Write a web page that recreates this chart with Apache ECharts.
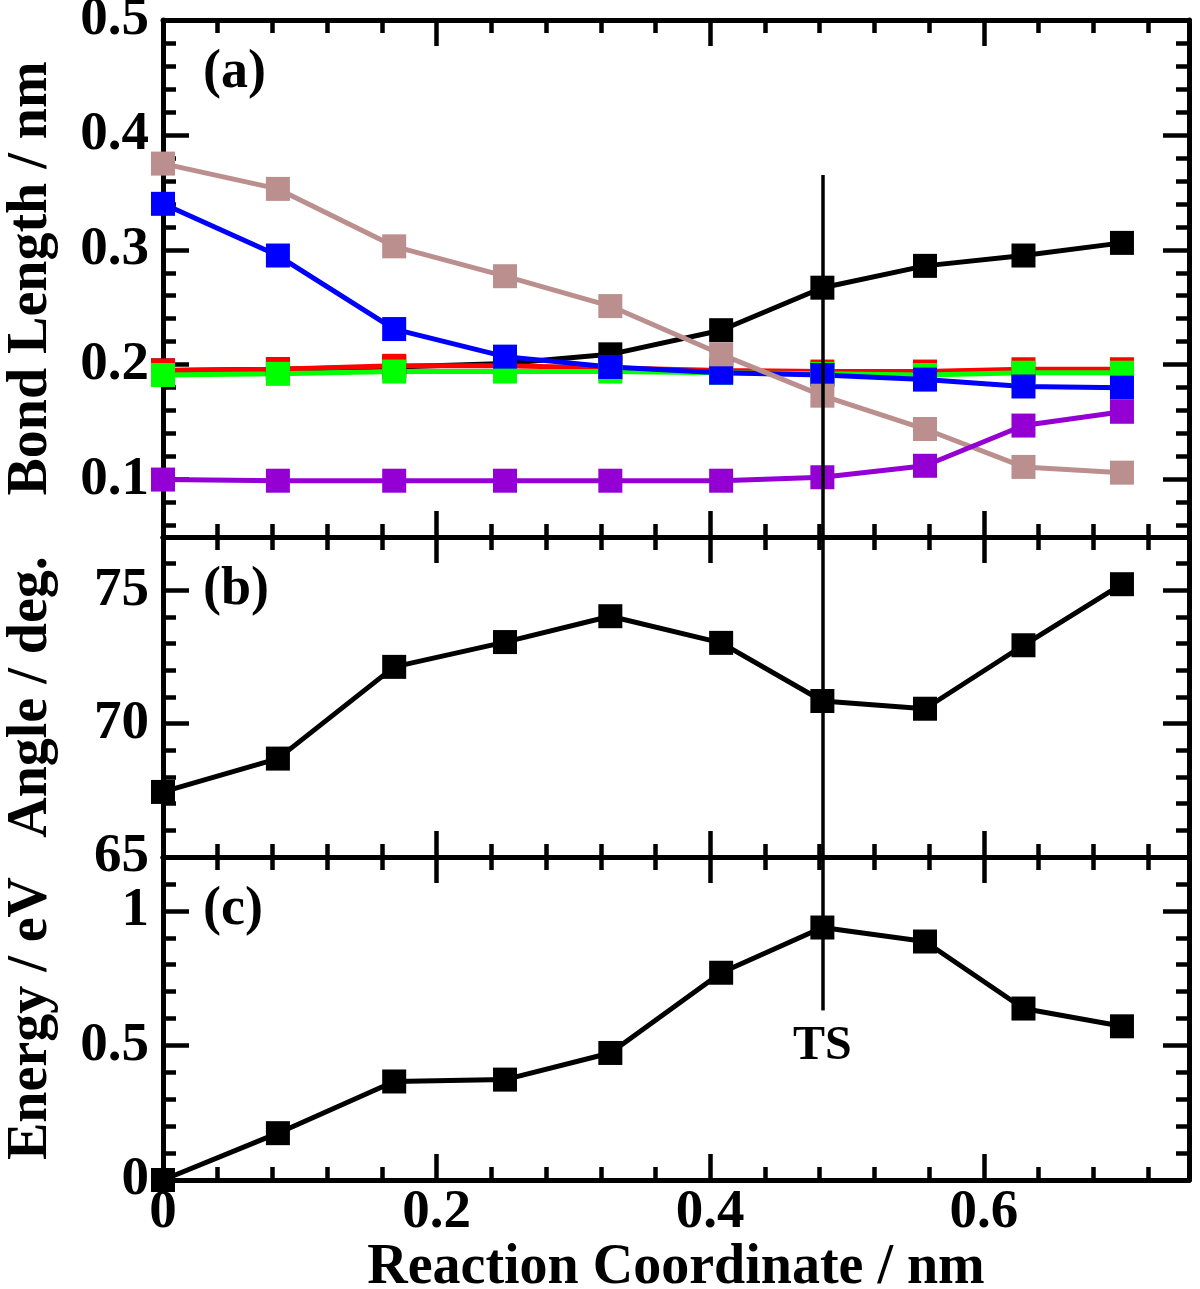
<!DOCTYPE html>
<html>
<head>
<meta charset="utf-8">
<script src="https://cdn.jsdelivr.net/npm/echarts@6/dist/echarts.min.js"></script>
<style>
  html, body { margin: 0; padding: 0; background: #fff; }
  #main { width: 1200px; height: 1289px; }
</style>
</head>
<body>
<div id="main"></div>
<script>
// reaction coordinate of every image (nm)
const coord = [0, 0.084, 0.169, 0.250, 0.327, 0.408, 0.482, 0.557, 0.629, 0.701];

// (a) bond lengths / nm
const bondBlack  = [0.195, 0.196, 0.198, 0.201, 0.209, 0.230, 0.267, 0.286, 0.295, 0.306];
const bondRed    = [0.195, 0.196, 0.199, 0.199, 0.197, 0.195, 0.194, 0.194, 0.196, 0.196];
const bondGreen  = [0.191, 0.192, 0.194, 0.194, 0.194, 0.193, 0.192, 0.191, 0.193, 0.193];
const bondBlue   = [0.340, 0.295, 0.231, 0.207, 0.198, 0.193, 0.191, 0.187, 0.181, 0.180];
const bondBrown  = [0.375, 0.353, 0.303, 0.277, 0.251, 0.209, 0.173, 0.144, 0.111, 0.106];
const bondPurple = [0.100, 0.099, 0.099, 0.099, 0.099, 0.099, 0.102, 0.112, 0.147, 0.159];

// (b) angle / deg.
const angle = [67.44, 68.69, 72.13, 73.06, 74.03, 73.03, 70.85, 70.56, 72.94, 75.23];

// (c) energy / eV
const energy = [0, 0.174, 0.366, 0.373, 0.472, 0.770, 0.938, 0.886, 0.637, 0.571];

// transition state
const tsX = 0.482;
const tsTopBond = 0.365;
const tsBottomEnergy = 0.63;

// ticks
const xMajor = [0, 0.2, 0.4, 0.6];
const xMinor = [0.04, 0.08, 0.12, 0.16, 0.24, 0.28, 0.32, 0.36, 0.44, 0.48, 0.52, 0.56, 0.64, 0.68, 0.72];
const bondMajor = [0.1, 0.2, 0.3, 0.4, 0.5];
const bondMinor = [0.06, 0.08, 0.12, 0.14, 0.16, 0.18, 0.22, 0.24, 0.26, 0.28, 0.32, 0.34, 0.36, 0.38, 0.42, 0.44, 0.46, 0.48];
const angleMajor = [65, 70, 75];
const angleMinor = [66, 67, 68, 69, 71, 72, 73, 74, 76];
const energyMajor = [0, 0.5, 1];
const energyMinor = [0.1, 0.2, 0.3, 0.4, 0.6, 0.7, 0.8, 0.9, 1.1];

const font = "'Liberation Serif','Times New Roman',serif";
const black = '#000';

const panels = [
  {top: 20,  height: 517, min: 0.05, max: 0.5, major: bondMajor,   minor: bondMinor,   name: 'Bond Length / nm', tag: '(a)'},
  {top: 537, height: 320, min: 65,   max: 77,  major: angleMajor,  minor: angleMinor,  name: 'Angle / deg.',     tag: '(b)'},
  {top: 857, height: 323, min: 0,    max: 1.2, major: energyMajor, minor: energyMinor, name: 'Energy / eV',      tag: '(c)'}
];

let grids = [], xAxes = [], yAxes = [], graphics = [];

panels.forEach((p, gi) => {
  grids.push({left: 163, right: 11, top: p.top, height: p.height, containLabel: false, outerBoundsMode: 'none'});

  // x axes: bottom major, bottom minor, top major, top minor
  [['bottom', xMajor, 26, true], ['bottom', xMinor, 13, false], ['top', xMajor, 26, true], ['top', xMinor, 13, false]].forEach((a, k) => {
    let withLabel = gi === 2 && k === 0;
    xAxes.push({
      gridIndex: gi, type: 'value', position: a[0], min: 0, max: 0.75,
      axisLine: {show: a[3], onZero: false, lineStyle: {color: black, width: 5}},
      axisTick: {show: true, inside: true, length: a[2], customValues: a[1], lineStyle: {color: black, width: 4.5}},
      axisLabel: withLabel ? {show: true, customValues: xMajor, margin: 5, color: black, fontFamily: font, fontWeight: 'bold', fontSize: 55} : {show: false},
      splitLine: {show: false},
      name: withLabel ? 'Reaction Coordinate / nm' : '',
      nameLocation: 'middle', nameGap: 57,
      nameTextStyle: {color: black, fontFamily: font, fontWeight: 'bold', fontSize: 56}
    });
  });

  // y axes: left major, left minor, right major, right minor
  [['left', p.major, 26, true], ['left', p.minor, 13, false], ['right', p.major, 26, true], ['right', p.minor, 13, false]].forEach((a, k) => {
    let withLabel = k === 0;
    yAxes.push({
      gridIndex: gi, type: 'value', position: a[0], min: p.min, max: p.max,
      axisLine: {show: a[3], onZero: false, lineStyle: {color: black, width: 5}},
      axisTick: {show: true, inside: true, length: a[2], customValues: a[1], lineStyle: {color: black, width: 4.5}},
      axisLabel: withLabel ? {show: true, customValues: p.major, margin: 14, color: black, fontFamily: font, fontWeight: 'bold', fontSize: 55} : {show: false},
      splitLine: {show: false},
      name: withLabel ? p.name : '',
      nameLocation: 'middle', nameRotate: 90, nameGap: 103,
      nameTextStyle: {color: black, fontFamily: font, fontWeight: 'bold', fontSize: 56}
    });
  });

  graphics.push({
    type: 'text', left: 203, top: p.top + 26,
    style: {text: p.tag, fill: black, font: 'bold 54px ' + font}
  });
});

function lineSeries(gi, values, color) {
  return {
    type: 'line', xAxisIndex: gi * 4, yAxisIndex: gi * 4,
    data: coord.map((x, i) => [x, values[i]]),
    symbol: 'rect', symbolSize: 24,
    itemStyle: {color: color},
    lineStyle: {color: color, width: 5},
    animation: false
  };
}

function tsLine(gi, from, to, label) {
  return {
    type: 'line', xAxisIndex: gi * 4, yAxisIndex: gi * 4, data: [], z: 10,
    markLine: {
      silent: true, symbol: 'none', animation: false,
      lineStyle: {color: black, width: 3.5, type: 'solid'},
      label: label ? {show: true, position: 'end', formatter: 'TS', distance: 12, color: black, fontFamily: font, fontWeight: 'bold', fontSize: 48} : {show: false},
      data: [[{coord: [tsX, from]}, {coord: [tsX, to]}]]
    }
  };
}

const series = [
  lineSeries(0, bondBlack, '#000000'),
  lineSeries(0, bondRed, '#ff0000'),
  lineSeries(0, bondGreen, '#00ff00'),
  lineSeries(0, bondBlue, '#0000ff'),
  lineSeries(0, bondBrown, '#bc8f8f'),
  lineSeries(0, bondPurple, '#9400d3'),
  lineSeries(1, angle, '#000000'),
  lineSeries(2, energy, '#000000'),
  tsLine(0, tsTopBond, 0.05, false),
  tsLine(1, 77, 65, false),
  tsLine(2, 1.2, tsBottomEnergy, true)
];

const chart = echarts.init(document.getElementById('main'));
chart.setOption({
  animation: false,
  backgroundColor: '#fff',
  grid: grids,
  xAxis: xAxes,
  yAxis: yAxes,
  graphic: graphics,
  series: series
});
</script>
</body>
</html>
